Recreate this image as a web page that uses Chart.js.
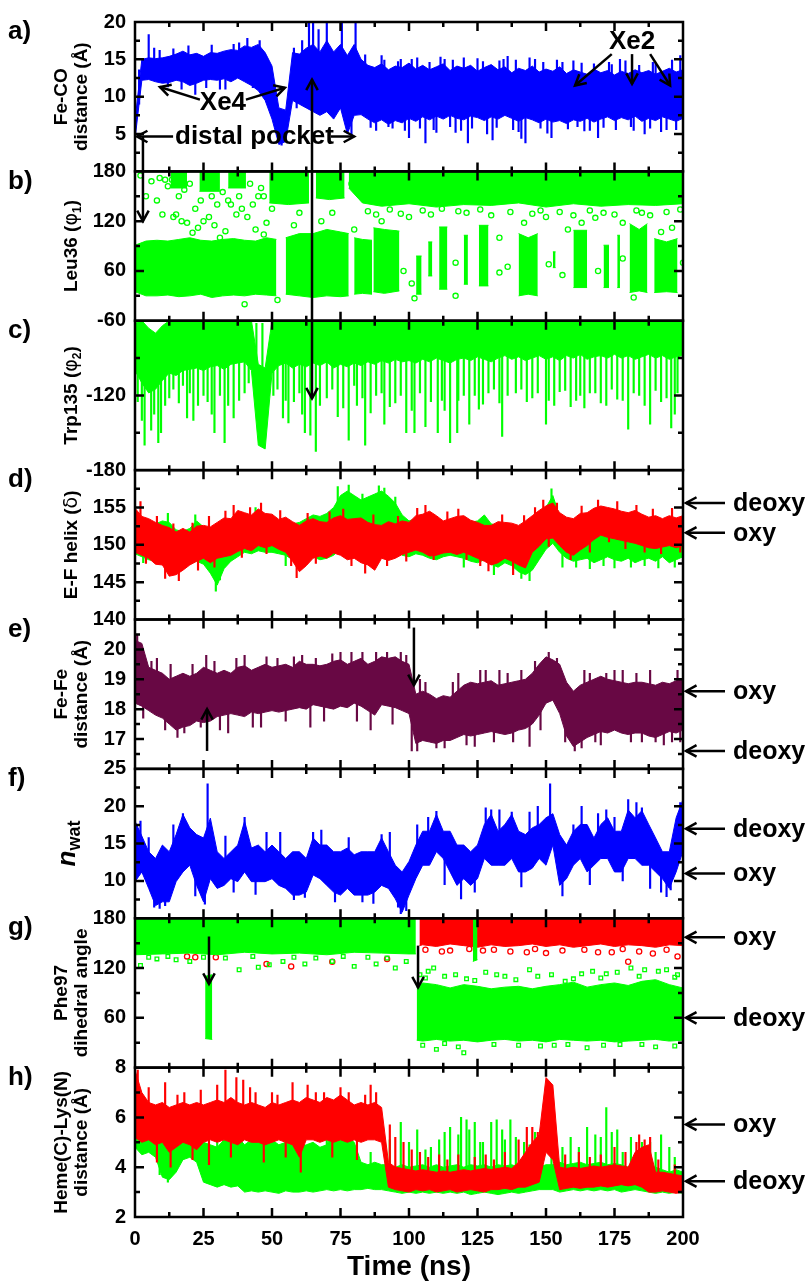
<!DOCTYPE html>
<html>
<head>
<meta charset="utf-8">
<script src="https://cdn.jsdelivr.net/npm/chart.js@4.4.0/dist/chart.umd.min.js"></script>
<style>
  html, body { margin: 0; padding: 0; background: #fff; }
</style>
</head>
<body>
<canvas id="chart" width="812" height="1281"></canvas>
<script>
// ---- time axis (ns), sampled every 2.5 ns ----
const TIME = [
  0,2.5,5,7.5,10,12.5,15,17.5,20,22.5,
  25,27.5,30,32.5,35,37.5,40,42.5,45,47.5,
  50,52.5,55,57.5,60,62.5,65,67.5,70,72.5,
  75,77.5,80,82.5,85,87.5,90,92.5,95,97.5,
  100,102.5,105,107.5,110,112.5,115,117.5,120,122.5,
  125,127.5,130,132.5,135,137.5,140,142.5,145,147.5,
  150,152.5,155,157.5,160,162.5,165,167.5,170,172.5,
  175,177.5,180,182.5,185,187.5,190,192.5,195,197.5,
  200
];

// a) Fe-CO distance: upper / lower envelope of the trace
const aHi = [
  6.8,15.0,15.2,15.1,15.2,15.4,15.7,16.1,15.6,15.8,
  15.4,15.9,15.8,16.1,16.3,16.2,16.8,16.6,17.0,15.9,
  14.1,8.5,8.2,15.9,15.7,16.5,17.0,16.0,17.5,16.0,
  17.0,15.5,17.0,15.0,14.2,13.9,14.4,13.6,14.1,13.9,
  14.5,13.7,14.2,13.6,14.0,14.4,13.5,14.1,13.8,14.2,
  13.4,13.9,14.3,13.6,14.0,13.2,13.8,13.5,14.1,13.3,
  13.7,13.4,14.0,13.1,13.6,13.3,13.0,13.7,13.2,13.5,
  12.9,13.4,13.1,13.6,13.2,13.5,13.0,13.4,13.8,13.3,
  13.6
];
const aLo = [
  4.3,12.2,12.3,12.0,11.8,11.9,12.2,12.0,11.5,11.8,
  12.2,12.3,12.2,12.4,12.0,12.5,12.0,11.5,10.8,9.5,
  7.0,3.6,4.0,9.5,9.0,8.5,8.0,7.5,8.0,7.0,
  8.5,5.0,7.5,7.6,7.0,6.5,6.9,6.3,6.8,6.5,
  7.1,6.7,7.3,6.9,7.4,7.0,7.5,7.1,6.9,7.4,
  7.2,6.8,7.3,7.0,7.5,7.1,6.7,7.2,6.9,6.5,
  7.0,6.6,6.8,6.4,6.9,6.7,7.1,6.6,7.0,7.3,
  6.8,7.2,6.9,7.4,6.7,7.1,6.8,7.3,7.0,6.7,
  7.1
];
const aSpikeT = [1.5,5,9,22,31,38,45.5,53.5,58,63.5,65,67,70,75.5,79,80.5,84,88,90,94,97,100,103,106,109,113,117,121.5,125,130.5,133,136,140,142.5,146,152,156,160,164,169,173,177,182,186,190,194,199,
  7,12,14,17,19.5,26,28,33,36,41,43,59,61,
  82,86,91,92.5,96,98.5,101,104,107.5,110,111.5,115,116,119,120,123,127,128.5,132,134.5,138,139,141,144,148,149,150.5,154,158,161.5,163,166,167.5,171,174,175.5,179,181,184,188,189,192,196,197.5];
const aSpikeV = [9,18.3,16.2,10.3,11,17.2,17.5,3.5,16.5,20,20,19,20,20,4.5,20,15.6,5.5,15.5,5.8,15.0,4.5,15.2,3.8,5.6,15,5.2,3.8,15.1,4.2,14.8,15.4,5.3,3.8,15.0,4.5,14.6,14.8,5.4,4.5,14.6,15.0,5.5,5,14.5,5.6,15.5,
  16.5,11.3,16.4,11.0,16.8,11.2,16.9,11.0,17.0,17.8,11.2,8.5,17.5,
  14.8,5.9,14.9,6.0,14.7,5.5,15.0,5.8,14.6,5.2,15.3,6.0,14.9,5.5,15.2,5.8,14.7,5.0,5.9,15.0,5.6,14.9,4.4,15.2,5.8,14.6,5.1,14.9,5.7,6.0,14.5,5.5,14.4,5.9,14.3,5.6,14.8,6.0,14.2,5.8,14.6,5.3,14.9,5.6];

// b) Leu36 phi1: dense blocks (segments split by null) and stray points
const bLowT  = [0,4,8,12,16,20,24,28,32,36,40,44,48,51.6,51.7, 55,60,65,70,75,78,78.1, 80,83,86.5,86.6, 87,91,96.5,96.6, 102.6,104.6,104.7, 107,108.5,108.6, 111,114,114.1, 120,121.5,121.6, 125.5,129,129.1, 140,143.5,147,147.1, 152.5,153.5,153.6, 160,165,165.1, 171,173,173.1, 176,177,177.1, 180.5,184,187,187.1, 189.5,194,198];
const bLowHi = [91,96,97,96,98,100,97,96,98,99,97,96,100,98,null, 100,105,105,110,107,105,null, 100,98,97,null, 112,110,108,null, 78,78,null, 95,95,null, 113,113,null, 103,103,null, 115,115,null, 105,100,105,null, 83,83,null, 109,109,null, 91,91,null, 103,103,null, 117,110,117,null, 99,95,99];
const bLowLo = [35,30,30,31,29,30,32,28,30,31,30,32,31,30,null, 32,30,28,30,29,30,null, 32,33,32,null, 35,33,36,null, 32,32,null, 54,54,null, 38,38,null, 44,44,null, 42,42,null, 30,32,30,null, 64,64,null, 40,40,null, 40,40,null, 40,40,null, 34,36,34,null, 34,35,34];
const bUpT  = [13,19,19.1, 23.5,31,31.1, 34,40.5,40.6, 49,56,63.5,63.6, 66,71,76.5,76.6, 78,83,90,100,110,120,130,140,150,160,170,180,190,200];
const bUpHi = [180,180,null, 180,180,null, 180,180,null, 180,180,180,null, 180,180,180,null, 180,180,180,180,180,180,180,180,180,180,180,180,180,180];
const bUpLo = [160,160,null, 156,156,null, 160,160,null, 142,140,142,null, 148,146,148,null, 160,142,138,141,137,140,139,142,137,141,138,140,139,141];
const bOutT = [2,4,6,8,10,11,14,15,17,19,21,22,23,25,27,29,31,33,35,37,41,42,44,45,47,48,50,53,58,60,68,72,79,80,90,95,100,118,130,133,142,150,158,163,168,178,185,192,196,40,52,102,117,182,9,
  12,13.5,16,18,20,24,26,28,30,32,34,36,38,39,43,46,47,
  85,88,93,97,105,108,112,121,126,137,145,148,155,160,166,171,175,183,188,194,199,
  98,101,117,133,136,151,156,169,178,200];
const bOutV = [175,150,168,145,128,170,125,128,120,118,106,135,112,120,125,115,100,108,140,128,125,165,110,150,104,118,135,160,115,130,120,130,165,110,120,105,125,132,127,100,118,125,110,118,124,118,130,107,112,20,25,27,30,28,172,
  162,170,150,158,165,145,162,150,140,155,145,170,150,135,140,160,150,
  132,128,134,129,133,128,135,130,134,131,129,133,131,127,133,130,128,133,127,131,134,
  60,45,70,58,65,68,55,60,75,70];

// c) Trp135 phi2
const cHi = [
  -62,-60,-66,-70,-64,-60,-60,-60,-60,-60,
  -60,-60,-60,-60,-60,-60,-60,-60,-95,-98,
  -60,-60,-60,-60,-60,-60,-60,-60,-60,-60,
  -60,-60,-60,-60,-60,-60,-60,-60,-60,-60,
  -60,-60,-60,-60,-60,-60,-60,-60,-60,-60,
  -60,-60,-60,-60,-60,-60,-60,-60,-60,-60,
  -60,-60,-60,-60,-60,-60,-60,-60,-60,-60,
  -60,-60,-60,-60,-60,-60,-60,-60,-60,-60,
  -60
];
const cLo = [
  -100,-110,-118,-115,-108,-102,-104,-100,-99,-98,
  -100,-97,-96,-99,-95,-94,-93,-100,-160,-163,
  -102,-96,-94,-98,-95,-97,-94,-96,-93,-98,
  -95,-97,-94,-96,-93,-95,-92,-94,-91,-93,
  -92,-94,-91,-93,-90,-92,-94,-91,-90,-92,
  -89,-91,-93,-90,-88,-91,-89,-92,-90,-88,
  -91,-89,-92,-88,-90,-87,-91,-89,-88,-90,
  -87,-90,-88,-91,-89,-87,-90,-88,-91,-89,
  -88
];
const cSpikeT = [3.5,5.9,8.5,11,14,19,21.3,25,29,32.7,36,40,44.3,46.5,54,56,58,62,64,66,70,74,78,81,84,88,91,95,99,102,104,106,110.5,112,115,117.6,120,122,127,131,134,139,145,150,153,157,161,164,168,172,176,180,184,188,192,195.7,198,
  1,2.5,7,9.5,12.5,16,17.5,20,23,26.5,28,31,34,38,41.5,50.5,52,55,60,61,67.5,72,76,80,83,86,90,93,97,101,108,113,118,124,125.5,129,133,136,141,143,147,151,155,159,162.5,166,170,174,178,182,186,190,194,197];
const cSpikeV = [-160,-148,-158,-128,-115,-138,-140,-120,-150,-158,-138,-118,-62,-62,-138,-142,-125,-150,-152,-165,-122,-137,-156,-128,-160,-120,-143,-126,-150,-150,-118,-145,-150,-124,-158,-150,-120,-143,-127,-115,-153,-118,-122,-143,-128,-116,-124,-130,-118,-128,-123,-147,-120,-143,-125,-146,-118,
  -125,-140,-135,-150,-122,-126,-112,-118,-128,-125,-135,-120,-128,-124,-110,-120,-115,-124,-118,-135,-128,-115,-130,-112,-122,-134,-118,-129,-120,-132,-125,-132,-124,-120,-131,-118,-126,-120,-115,-125,-118,-124,-117,-129,-120,-118,-126,-115,-124,-118,-128,-116,-122,-135];

// d) E-F helix delta (green and red runs)
const dRedHi = [
  154.9,153.8,153.5,153.0,152.6,152.3,151.7,152.2,151.7,152.5,
  152.6,152.4,153.0,153.6,153.5,154.6,154.3,154.0,154.8,154.2,
  154.1,153.4,153.7,153.1,152.6,153.2,153.5,153.1,153.0,153.6,
  153.9,153.4,153.5,153.6,153.0,152.7,152.6,153.1,152.8,153.2,
  153.0,153.9,154.1,154.5,153.9,153.2,153.5,153.8,153.9,153.3,
  153.0,152.6,152.6,153.1,153.0,152.9,152.6,153.2,153.9,154.6,
  155.2,155.6,154.3,153.7,153.5,154.2,154.3,154.9,155.2,155.0,
  154.8,154.5,154.3,154.6,154.1,153.7,153.9,153.5,153.9,153.6,
  153.9
];
const dRedLo = [
  149.0,148.6,148.2,147.4,147.3,145.8,146.0,146.6,147.3,147.8,
  148.2,147.6,148.2,148.4,148.6,149.1,149.5,149.2,149.9,149.6,
  149.9,149.4,149.0,147.8,146.4,147.2,148.2,148.5,148.2,148.9,
  148.6,148.0,148.2,147.6,147.3,146.6,148.2,147.9,148.2,148.7,
  149.0,149.3,149.0,148.5,148.6,148.9,149.0,148.7,149.0,148.6,
  148.2,147.8,147.3,147.6,148.2,147.8,147.3,146.9,149.0,149.8,
  150.8,150.9,149.9,149.0,148.6,149.3,149.9,150.7,151.3,151.0,
  150.8,150.6,150.4,150.2,149.9,149.6,149.5,149.7,149.9,149.6,
  149.9
];
const dGreenHi = [
  154.5,153.5,153.2,152.8,153.2,153.0,152.0,151.8,152.2,153.2,
  152.4,152.0,152.5,153.0,153.2,154.0,154.0,153.8,154.2,153.8,
  153.8,153.0,153.2,152.8,153.0,153.5,154.0,153.8,154.2,155.0,
  156.6,157.2,156.6,156.0,156.4,156.8,157.2,156.5,155.6,154.0,
  153.2,153.5,154.0,154.2,153.6,153.0,153.4,153.5,153.8,153.0,
  153.2,154.0,152.8,152.6,152.8,152.4,152.2,152.6,153.6,154.0,
  155.0,156.6,153.8,153.0,152.6,152.8,152.4,152.6,152.8,152.4,
  152.6,152.2,152.6,152.4,152.8,152.2,152.5,152.2,152.6,152.4,
  152.6
];
const dGreenLo = [
  148.8,148.4,148.0,147.8,147.6,147.0,146.8,147.0,147.5,147.8,
  147.4,146.2,144.6,146.8,147.8,148.4,149.0,148.8,149.2,149.0,
  149.0,148.8,148.6,148.0,147.6,148.0,148.4,148.0,148.2,148.6,
  149.5,150.5,150.8,150.6,150.2,150.8,151.0,150.6,149.6,148.6,
  148.4,148.8,148.6,148.2,148.0,148.4,148.6,148.4,148.2,147.8,
  147.6,148.0,147.4,147.0,147.6,147.2,146.4,146.0,146.6,148.0,
  149.4,150.2,149.0,148.2,147.8,148.0,148.2,147.6,148.0,148.4,
  148.0,147.8,148.2,147.6,148.0,148.2,147.8,148.4,147.6,148.0,
  148.4
];
const dRedSpikeT = [2,4,8,11,14,16,21,23,27,29,33,36,39,42,46,48,53,57,59,63,66,71,76,79,84,87,92,96,99,103,106,109,114,118,121,126,129,134,138,142,146,149,151,154,159,163,166,169,173,176,179,183,186,189,192,196,199];
const dRedSpikeV = [155.8,147.5,153.8,145.5,152.8,145.2,152.9,146.6,153.8,147.0,154.5,155.3,148.3,155.0,155.6,148.8,154.6,147.2,145.6,154.2,147.5,154.4,154.8,147.2,146.2,154.0,147.2,153.8,147.8,154.9,155.3,148.0,154.4,154.8,148.0,147.2,146.5,154.0,146.0,153.9,155.0,156.0,149.8,155.6,148.0,155.2,149.0,156.0,150.4,155.8,149.5,155.3,149.0,154.8,148.8,154.9,149.0];
const dGreenSpikeT = [3,12,22,29.5,31,44,55,74,78,83,89,91,95,120,131,141,144,152,156,161,166,171,175,181,186,191,197,199];
const dGreenSpikeV = [147.6,154.2,154.0,143.8,145.3,155.0,147.2,157.8,158.0,156.8,157.9,157.6,156.4,147.0,146.0,145.5,145.2,157.5,147.0,147.0,146.8,147.2,146.9,147.0,147.2,146.9,147.0,152.0];

// e) Fe-Fe distance
const eHi = [
  20.3,20.2,19.4,19.3,19.2,19.0,19.1,19.2,19.1,19.2,
  19.4,19.3,19.2,19.3,19.2,19.4,19.45,19.3,19.4,19.5,
  19.4,19.45,19.5,19.4,19.6,19.5,19.5,19.45,19.5,19.6,
  19.65,19.5,19.6,19.7,19.5,19.6,19.75,19.7,19.75,19.6,
  19.5,18.5,18.6,18.5,18.35,18.45,18.4,18.6,18.8,18.9,
  18.85,18.9,18.95,18.8,18.85,18.9,18.95,19.0,19.2,19.5,
  19.75,19.65,19.5,18.9,18.6,18.8,18.9,19.0,19.1,19.0,
  18.95,18.9,18.85,18.9,18.9,18.85,18.8,18.9,18.85,18.95,
  19.0
];
const eLo = [
  18.2,18.1,17.95,17.8,17.7,17.5,17.3,17.4,17.45,17.6,
  17.55,17.6,17.75,17.8,17.85,17.8,17.75,17.9,17.85,17.9,
  17.95,17.9,17.95,18.0,18.05,18.0,18.15,18.1,18.05,18.0,
  18.1,18.05,18.2,18.1,17.95,17.8,18.15,18.1,18.05,17.95,
  17.85,16.85,16.95,16.9,16.85,16.95,16.95,17.05,17.15,17.1,
  17.15,17.2,17.25,17.2,17.15,17.2,17.3,17.35,17.5,17.8,
  18.2,18.3,17.85,17.1,16.75,16.9,17.05,17.15,17.25,17.2,
  17.3,17.2,17.15,17.2,17.2,17.1,17.05,17.15,17.25,17.2,
  17.3
];
const eSpikeT = [0.8,8,15.5,26,34,40,46,52,58,64,66,72,79,83,86,92,97,101,104,108,113,118,124,128,136,141,144,151,160.5,164,168,172,178,185,190,196,198,
  3,6,11,13,18,21,24,29,31,37,43,48,55,61,69,75,81,88,94,99,103,106,110,116,121,126,131,133,138,146,148,154,157,163,166,170,175,181,183,188,193,199];
const eSpikeV = [20.5,19.7,17.05,19.8,17.2,19.8,17.4,19.7,19.75,17.4,19.7,19.85,19.9,19.9,17.3,19.9,19.9,16.6,19.0,17.0,16.7,19.2,16.75,19.3,19.2,19.3,16.75,19.9,16.6,19.3,16.9,19.2,19.3,16.9,16.9,16.9,19.3,
  17.7,19.6,17.3,19.5,17.2,19.5,17.4,19.6,17.3,19.7,17.4,19.75,17.6,19.8,17.6,19.9,17.6,19.9,17.5,19.8,16.6,18.9,16.7,18.9,16.8,19.3,16.9,19.3,16.9,19.6,17.3,19.7,16.9,16.7,19.2,16.8,19.3,16.9,19.2,19.3,16.8,16.9];

// f) n_wat
const fHi = [
  18.0,16.0,13.9,13.0,14.8,13.9,16.2,18.9,17.1,16.2,
  15.75,18.4,13.9,13.0,13.9,14.8,18.0,14.4,14.8,13.9,
  14.8,13.9,13.0,13.9,13.9,13.0,15.75,14.8,14.8,13.9,
  13.9,14.4,13.5,13.9,13.9,13.9,15.75,13.9,12.1,11.2,
  12.6,14.8,16.65,16.65,18.9,16.65,16.65,14.8,14.8,13.9,
  14.8,17.55,18.9,16.65,17.55,18.9,16.65,16.2,17.1,17.55,
  18.45,19.0,16.2,14.8,16.65,17.55,17.55,15.75,17.55,18.45,
  16.65,16.65,19.5,18.45,19.4,17.55,15.75,13.9,13.9,18.45,
  20.9
];
const fLo = [
  9.9,11.2,9.0,6.7,7.2,7.2,9.9,11.2,12.1,9.4,
  7.2,10.3,9.0,9.4,10.3,9.9,11.2,9.9,9.9,9.9,
  10.3,9.4,9.0,8.1,8.1,8.5,10.8,10.3,9.4,8.5,
  8.1,9.0,8.1,8.1,8.1,8.5,9.4,9.0,7.6,5.8,
  8.1,10.3,12.1,12.1,13.9,13.0,11.2,9.4,10.3,9.4,
  10.3,13.0,12.1,12.1,12.1,13.0,11.2,11.2,11.7,13.0,
  12.1,14.8,9.4,10.3,12.1,13.0,11.2,12.1,13.0,13.0,
  11.2,11.2,13.0,13.0,12.1,12.1,11.2,10.3,9.0,11.2,
  14.0
];
const fSpikeT = [2,7,11,17.5,25.5,26.5,40,65,90,97,110,130,137.5,151.5,172,180,185,195.5,
  5,9,14,22,33,36,44,48,53,58,62,68,73,78,83,87,93,96,99,103,107,113,119,124,128,133,141,144,147,156,160,163,166,169,175,178,183,188,192,194,199];
const fSpikeV = [18,6.5,6.7,19,6.9,23,18.5,16.5,16.2,5.6,19.3,19.5,19.2,23,19.5,20.9,19.8,8.8,
  15.8,6.3,17.5,8.0,16,8.5,8.2,16.5,16.5,7.5,7.8,16.8,7.2,15.8,7.2,7.0,16.5,6.5,6.0,17.5,18.5,9.5,7.6,8.5,19.8,19.5,9.2,19.2,20.0,8.0,17.5,20,9.5,19.0,18.5,10,20.5,9.0,8.5,7.9,20.5];

// g) Phe97 dihedral angle
const gGreenUpT  = [0,10,20,30,40,50,60,70,80,90,100,102.5];
const gGreenUpHi = [180,180,180,180,180,180,180,180,180,180,180,180];
const gGreenUpLo = [136,137,138,136,139,137,138,136,139,138,137,137];
const gGreenDipT  = [25.6,28.2];
const gGreenDipHi = [110,112];
const gGreenDipLo = [35,34];
const gGreenBarT  = [123.3,125.0];
const gGreenBarHi = [180,180];
const gGreenBarLo = [128,130];
const gGreenLowT  = [102.8,105,110,115,120,125,130,135,140,145,150,155,160,165,170,175,180,185,190,195,200];
const gGreenLowHi = [97,102,100,96,100,98,95,97,98,95,98,100,103,97,100,102,99,104,106,100,96];
const gGreenLowLo = [33,32,34,32,33,31,33,34,32,33,31,34,33,32,33,31,32,33,34,32,33];
const gRedT  = [103.8,105,110,115,120,125,130,135,140,145,150,155,160,165,170,175,180,185,190,195,200];
const gRedHi = [180,180,180,180,180,180,180,180,180,180,180,180,180,180,180,180,180,180,180,180,180];
const gRedLo = [147,148,146,149,147,145,148,146,147,149,146,148,145,147,149,146,148,147,145,148,147];
const gGreenOutT = [2,8,15,20,38,45,49,54,62,72,80,88,95,99,104,107,109,117,121,128,135,144,152,160,167,172,181,186,194,198,110,118,131,153,165,177,190,120,
  106,113,124,132,139,147,157,163,170,176,184,191,197,105,113,140,148,158,171,185,197,5,12,25,33,43,58,66,76,85,92];
const gGreenOutV = [123,131,130,128,118,121,124,128,125,128,122,125,120,128,112,116,120,112,107,115,110,118,112,107,116,113,120,118,118,112,22,25,28,27,24,28,25,18,
  108,110,105,112,106,110,104,113,108,115,110,116,109,27,29,27,26,28,27,28,26,133,134,133,132,134,133,132,134,133,132];
const gRedOutT = [19,22,29.5,48,57,72,92,112,127,143,150,174,180,189,198,
  106,115,122,131,137,146,156,164,169,178,184,194];
const gRedOutV = [134,133,133,125,122,127.5,131,140,141,139,138,139,127.5,137.5,134,
  142,141,143,142,140,143,141,142,139,143,140,142];

// h) Heme(C)-Lys(N) distance
const hRedHi = [
  7.9,7.0,6.6,6.5,6.6,6.4,6.5,6.6,6.5,6.6,
  6.5,6.6,6.7,6.6,6.8,6.6,6.5,6.6,6.5,6.4,
  6.6,6.5,6.6,6.7,6.6,6.8,6.7,6.6,6.8,6.7,
  6.9,6.7,6.5,6.6,6.5,6.6,6.4,4.2,4.0,3.95,
  3.9,3.85,3.9,3.85,3.8,3.85,3.8,3.85,3.9,3.85,
  3.9,3.95,3.9,3.95,4.0,3.95,4.2,4.6,5.0,5.3,
  7.6,7.3,4.0,3.95,4.0,3.95,4.0,4.05,4.0,4.05,
  4.1,4.05,4.0,4.6,4.8,4.9,3.8,3.8,3.75,3.7,
  3.65
];
const hRedLo = [
  5.2,5.0,5.1,4.9,5.0,4.6,4.8,5.0,4.9,4.7,
  5.0,5.1,5.0,5.1,5.0,4.9,5.1,5.0,5.0,4.9,
  5.0,5.1,5.0,4.9,4.4,5.1,5.1,5.0,5.1,5.0,
  5.1,5.0,5.1,5.0,5.1,5.1,5.0,3.2,3.1,3.05,
  3.0,3.1,3.05,3.1,3.0,3.05,3.1,3.0,3.05,3.1,
  3.05,3.0,3.1,3.1,3.15,3.1,3.2,3.2,3.3,3.4,
  4.6,4.3,3.1,3.15,3.2,3.15,3.2,3.2,3.25,3.2,
  3.25,3.3,3.25,3.3,3.2,3.0,3.0,3.05,3.0,2.95,
  3.0
];
const hGreenHi = [
  6.2,6.0,5.8,5.6,5.2,5.0,5.4,5.6,5.3,5.5,
  5.0,4.9,4.8,5.1,5.0,5.2,4.9,5.1,5.2,5.0,
  5.1,4.9,5.0,5.1,4.8,4.9,5.0,4.8,4.9,5.4,
  5.6,5.2,5.0,4.2,4.1,4.2,4.1,4.1,4.0,4.1,
  4.0,4.05,4.1,4.0,4.1,4.0,4.05,4.1,4.0,4.1,
  4.05,4.1,4.0,4.1,4.05,4.1,4.0,4.05,4.1,4.0,
  4.1,4.1,4.2,4.1,4.15,4.2,4.1,4.15,4.2,4.1,
  4.15,4.1,4.0,4.05,4.1,4.0,4.0,3.9,3.8,3.9,
  3.8
];
const hGreenLo = [
  4.8,4.5,4.6,4.4,3.6,3.5,3.8,4.3,4.4,4.2,
  3.4,3.3,3.2,3.3,3.2,3.25,3.0,3.05,3.0,3.05,
  3.0,2.95,3.05,3.0,3.0,3.05,3.0,3.05,3.1,3.05,
  3.1,3.05,3.1,3.1,3.15,3.1,3.1,3.05,3.0,2.95,
  3.0,2.95,3.0,2.95,3.0,2.95,3.0,2.95,3.0,2.9,
  2.95,3.0,2.95,2.9,2.95,3.0,2.95,3.0,3.05,3.1,
  3.1,3.1,3.0,3.05,3.1,3.05,3.1,3.05,3.1,3.05,
  3.1,3.0,3.05,3.1,3.05,3.0,2.95,3.0,2.95,3.0,
  2.95
];
const hRedSpikeT = [1,11,15.5,33,37,39.5,44,47,52,57.5,60.5,66,75,84,93,95,98,101,107,118,124,135,145,162,175,183,186,
  5,8,13,18,21,24,27,30,35,42,50,55,63,69,72,78,81,86,88,104,111,114,128,131,140,143,147,157,166,170,179,184,188,191,197];
const hRedSpikeV = [7.9,7.4,6.9,7.9,7.6,7.5,7.0,4.2,6.9,7.4,3.8,7.0,7.2,6.9,5.7,5.2,5.0,4.7,4.4,4.5,4.4,4.6,5.6,4.6,4.8,5.0,5.1,
  7.2,4.2,4.0,7.0,4.3,7.1,4.1,7.3,4.4,7.2,7.0,4.4,7.3,7.0,4.4,7.0,4.3,7.3,7.0,4.6,4.5,4.3,4.5,4.3,5.1,5.6,5.4,4.5,4.4,4.5,4.6,5.3,5.2,4.3,4.1];
const hGreenSpikeT = [4,9,12,19,30,45,70,79,86,93,97,103,108,111,115,118,121,124,127,130,134,137,142,146,159,165,168,172,176,181,188,192,195,
  100,106,113,119,122,126,132,135,139,144,148,152,156,162,170,174,178,185,190,197];
const hGreenSpikeV = [6.4,3.7,3.4,6.5,5.5,5.6,6.0,6.1,4.6,5.1,5.8,5.5,4.8,5.1,5.6,5.3,5.9,5.8,5.0,5.8,5.5,5.9,5.0,5.4,5.2,5.6,5.3,6.4,5.5,5.2,5.0,5.3,4.8,
  5.0,4.7,5.4,6.0,5.5,5.0,5.9,5.1,5.2,4.9,5.4,4.5,4.8,4.8,5.2,5.4,4.6,5.0,4.6,4.4];

// ---- panels: axis ranges and labelled ticks ----
const PANEL_IDS = ['ya','yb','yc','yd','ye','yf','yg','yh'];
const PANEL_LETTERS = ['a)','b)','c)','d)','e)','f)','g)','h)'];
const yMin = [0, 0, -180, 140, 16, 5, 0, 2];
const yMax = [20, 180, -60, 160, 21, 25, 180, 8];
const yStep = [2.5, 30, 30, 2.5, 0.5, 2.5, 30, 1];
const yLabels = [[5,10,15,20],[60,120,180],[-180,-120,-60],[140,145,150,155],[17,18,19,20],[10,15,20,25],[60,120,180],[2,4,6,8]];

// right-hand reference markers
const noteAxis  = ['yd','yd','ye','ye','yf','yf','yg','yg','yh','yh'];
const noteValue = [155.6, 151.6, 18.6, 16.6, 17, 11, 157, 60, 5.72, 3.44];
const noteText  = ['deoxy','oxy','oxy','deoxy','deoxy','oxy','oxy','deoxy','oxy','deoxy'];

const GREEN = '#00ff00', RED = '#ff0000', BLUE = '#0000ff', PURPLE = '#680844';
const FONT = "'Liberation Sans', Arial, Helvetica, sans-serif";

const datasets = [];

function band(axis, T, hi, lo, color, order) {
  datasets.push({ type: 'line', yAxisID: axis, order, data: T.map((t, i) => ({ x: t, y: hi[i] })),
    borderColor: color, backgroundColor: color, borderWidth: 1, pointRadius: 0, tension: 0, fill: '+1' });
  datasets.push({ type: 'line', yAxisID: axis, order, data: T.map((t, i) => ({ x: t, y: lo[i] })),
    borderColor: color, backgroundColor: color, borderWidth: 1, pointRadius: 0, tension: 0, fill: false });
}

// thin excursions, starting from the middle of the band at the nearest sample
function spikes(axis, T, V, hi, lo, color, order) {
  datasets.push({ type: 'bar', yAxisID: axis, order, grouped: false, barThickness: 1.5,
    backgroundColor: color,
    data: T.map((t, k) => { const i = Math.round(t / 2.5); return { x: t, y: [(hi[i] + lo[i]) / 2, V[k]] }; }) });
}

function dots(axis, T, V, color, style, order) {
  datasets.push({ type: 'line', showLine: false, yAxisID: axis, order,
    data: T.map((t, k) => ({ x: t, y: V[k] })),
    pointStyle: style, pointRadius: 2.6, pointBorderWidth: 1.3,
    pointBorderColor: color, pointBackgroundColor: 'rgba(0,0,0,0)' });
}

band('ya', TIME, aHi, aLo, BLUE, 2);
spikes('ya', aSpikeT, aSpikeV, aHi, aLo, BLUE, 2);

band('yb', bLowT, bLowHi, bLowLo, GREEN, 2);
band('yb', bUpT, bUpHi, bUpLo, GREEN, 2);
dots('yb', bOutT, bOutV, GREEN, 'circle', 1);

band('yc', TIME, cHi, cLo, GREEN, 2);
spikes('yc', cSpikeT, cSpikeV, cHi, cLo, GREEN, 2);

band('yd', TIME, dRedHi, dRedLo, RED, 1);
spikes('yd', dRedSpikeT, dRedSpikeV, dRedHi, dRedLo, RED, 1);
band('yd', TIME, dGreenHi, dGreenLo, GREEN, 3);
spikes('yd', dGreenSpikeT, dGreenSpikeV, dGreenHi, dGreenLo, GREEN, 3);

band('ye', TIME, eHi, eLo, PURPLE, 2);
spikes('ye', eSpikeT, eSpikeV, eHi, eLo, PURPLE, 2);

band('yf', TIME, fHi, fLo, BLUE, 2);
spikes('yf', fSpikeT, fSpikeV, fHi, fLo, BLUE, 2);

band('yg', gRedT, gRedHi, gRedLo, RED, 4);
dots('yg', gRedOutT, gRedOutV, RED, 'circle', 4);
band('yg', gGreenUpT, gGreenUpHi, gGreenUpLo, GREEN, 2);
band('yg', gGreenDipT, gGreenDipHi, gGreenDipLo, GREEN, 2);
band('yg', gGreenBarT, gGreenBarHi, gGreenBarLo, GREEN, 2);
band('yg', gGreenLowT, gGreenLowHi, gGreenLowLo, GREEN, 2);
dots('yg', gGreenOutT, gGreenOutV, GREEN, 'rect', 1);

band('yh', TIME, hGreenHi, hGreenLo, GREEN, 4);
spikes('yh', hGreenSpikeT, hGreenSpikeV, hGreenHi, hGreenLo, GREEN, 4);
band('yh', TIME, hRedHi, hRedLo, RED, 2);
spikes('yh', hRedSpikeT, hRedSpikeV, hRedHi, hRedLo, RED, 2);

// ---- annotations (data coordinates) ----
const ARROWS = [
  { from: ['ya', 13.9, 4.67], to: ['ya', 0.7, 4.67] },
  { from: ['ya', 2.9, 4.67], to: ['yb', 2.9, 120] },
  { from: ['ya', 71.5, 4.67], to: ['ya', 80, 4.67] },
  { from: ['ya', 23.7, 9.6], to: ['ya', 9.1, 11.3] },
  { from: ['ya', 40.5, 9.6], to: ['ya', 54.7, 11.2] },
  { from: ['ya', 64.6, 12.3], to: ['yc', 64.6, -122.4], both: true },
  { from: ['ya', 174, 15.7], to: ['ya', 160.6, 11.5] },
  { from: ['ya', 181.4, 15.7], to: ['ya', 181.4, 11.7] },
  { from: ['ya', 188, 15.7], to: ['ya', 195.3, 11.5] },
  { from: ['ye', 101.8, 20.73], to: ['ye', 101.8, 18.8] },
  { from: ['ye', 26.3, 16.6], to: ['ye', 26.3, 18.0] },
  { from: ['yg', 27, 158], to: ['yg', 27, 101] },
  { from: ['yg', 103.3, 147], to: ['yg', 103.3, 96.6] }
];
const TEXTS = [
  { at: ['ya', 32.1, 9.2], text: 'Xe4', align: 'center' },
  { at: ['ya', 181.4, 17.3], text: 'Xe2', align: 'center' },
  { at: ['ya', 14.6, 4.67], text: 'distal pocket', align: 'left' }
];

function head(ctx, x1, y1, x2, y2) {
  const a = Math.atan2(y2 - y1, x2 - x1), L = 12, w = 0.5;
  ctx.beginPath();
  ctx.moveTo(x2 - L * Math.cos(a - w), y2 - L * Math.sin(a - w));
  ctx.lineTo(x2, y2);
  ctx.lineTo(x2 - L * Math.cos(a + w), y2 - L * Math.sin(a + w));
  ctx.stroke();
}
function arrow(ctx, x1, y1, x2, y2, both) {
  ctx.beginPath(); ctx.moveTo(x1, y1); ctx.lineTo(x2, y2); ctx.stroke();
  head(ctx, x1, y1, x2, y2);
  if (both) head(ctx, x2, y2, x1, y1);
}
// rotated title made of several runs: [text, font, shift]
function vtext(ctx, x, y, parts) {
  ctx.save();
  ctx.translate(x, y);
  ctx.rotate(-Math.PI / 2);
  ctx.textBaseline = 'middle';
  ctx.textAlign = 'left';
  let w = 0;
  parts.forEach(p => { ctx.font = p[1]; w += ctx.measureText(p[0]).width; });
  let cx = -w / 2;
  parts.forEach(p => { ctx.font = p[1]; ctx.fillText(p[0], cx, p[2] || 0); cx += ctx.measureText(p[0]).width; });
  ctx.restore();
}

const B19 = 'bold 19px ' + FONT;
const SUB = 'bold 12px ' + FONT;
const GREEK = '19px "DejaVu Sans", sans-serif';
const TITLES = [
  [[62, [['Fe-CO', B19]]], [82, [['distance (Å)', B19]]]],
  [[72, [['Leu36 (', B19], ['φ', GREEK], ['1', SUB, 6], [')', B19]]]],
  [[72, [['Trp135 (', B19], ['φ', GREEK], ['2', SUB, 6], [')', B19]]]],
  [[72, [['E-F helix (', B19], ['δ', GREEK], [')', B19]]]],
  [[62, [['Fe-Fe', B19]]], [82, [['distance (Å)', B19]]]],
  [[68, [['n', 'italic bold 26px ' + FONT], ['wat', 'bold 18px ' + FONT, 7]]]],
  [[62, [['Phe97', B19]]], [82, [['dihedral angle', B19]]]],
  [[62, [['Heme(C)-Lys(N)', B19]]], [82, [['distance (Å)', B19]]]]
];

const framePlugin = {
  id: 'frames',
  afterDatasetsDraw(chart) {
    const { ctx, chartArea: ca, scales } = chart;
    const xs = scales.x;
    ctx.save();
    ctx.strokeStyle = '#000';
    ctx.lineWidth = 2.5;
    PANEL_IDS.forEach(id => {
      const s = scales[id];
      ctx.strokeRect(ca.left, s.top, ca.right - ca.left, s.bottom - s.top);
      ctx.beginPath();
      for (let t = 12.5; t < 200; t += 12.5) {
        const px = xs.getPixelForValue(t);
        const len = t % 25 === 0 ? 9 : 5;
        ctx.moveTo(px, s.top); ctx.lineTo(px, s.top + len);
        ctx.moveTo(px, s.bottom); ctx.lineTo(px, s.bottom - len);
      }
      s.ticks.forEach(tk => {
        if (tk.value <= s.min || tk.value >= s.max) return;
        const py = s.getPixelForValue(tk.value);
        const len = tk.label !== '' ? 9 : 5;
        ctx.moveTo(ca.left, py); ctx.lineTo(ca.left + len, py);
        ctx.moveTo(ca.right, py); ctx.lineTo(ca.right - len, py);
      });
      ctx.stroke();
    });
    ctx.restore();
  },
  afterDraw(chart) {
    const { ctx, chartArea: ca, scales } = chart;
    const xs = scales.x;
    const P = c => [xs.getPixelForValue(c[1]), scales[c[0]].getPixelForValue(c[2])];
    ctx.save();
    ctx.strokeStyle = '#000';
    ctx.fillStyle = '#000';
    ctx.lineWidth = 2.5;
    ctx.lineCap = 'butt';
    ctx.lineJoin = 'miter';

    ARROWS.forEach(a => {
      const [x1, y1] = P(a.from), [x2, y2] = P(a.to);
      arrow(ctx, x1, y1, x2, y2, a.both);
    });
    ctx.font = 'bold 26px ' + FONT;
    ctx.textBaseline = 'middle';
    TEXTS.forEach(t => {
      const [x, y] = P(t.at);
      ctx.textAlign = t.align;
      ctx.fillText(t.text, x, y);
    });

    // right-hand markers
    ctx.font = 'bold 25px ' + FONT;
    ctx.textAlign = 'left';
    noteAxis.forEach((ax, k) => {
      const y = scales[ax].getPixelForValue(noteValue[k]);
      arrow(ctx, ca.right + 42, y, ca.right + 3, y);
      ctx.fillText(noteText[k], ca.right + 50, y + 1);
    });

    // panel letters and titles
    PANEL_IDS.forEach((id, k) => {
      const s = scales[id];
      ctx.font = 'bold 26px ' + FONT;
      ctx.textAlign = 'left';
      ctx.fillText(PANEL_LETTERS[k], 8, s.top + 10);
      const yc = (s.top + s.bottom) / 2;
      TITLES[k].forEach(line => vtext(ctx, line[0], yc, line[1]));
    });
    ctx.restore();
  }
};

const tickFont = { family: FONT, size: 20, weight: 'bold' };
const scales = {
  x: {
    type: 'linear', position: 'bottom', min: 0, max: 200, offset: false,
    ticks: { stepSize: 25, autoSkip: false, maxRotation: 0, font: tickFont, color: '#000', padding: 10 },
    grid: { display: false, drawTicks: false },
    border: { display: false },
    title: { display: true, text: 'Time (ns)', color: '#000', font: { family: FONT, size: 28, weight: 'bold', lineHeight: 1 }, padding: { top: 0, bottom: 0 } },
    afterFit(s) { s.height = 64; }
  }
};
PANEL_IDS.forEach((id, k) => {
  scales[id] = {
    type: 'linear', position: 'left', stack: 'panels', stackWeight: 1, weight: 8 - k,
    min: yMin[k], max: yMax[k], offset: false,
    ticks: {
      stepSize: yStep[k], autoSkip: false, font: tickFont, color: '#000', padding: 9,
      callback: v => (yLabels[k].includes(v) ? String(v) : '')
    },
    grid: { display: false, drawTicks: false },
    border: { display: false },
    afterFit(s) { s.width = 135; }
  };
});

new Chart(document.getElementById('chart'), {
  type: 'line',
  data: { datasets },
  options: {
    responsive: false,
    animation: false,
    devicePixelRatio: 1,
    events: [],
    layout: { padding: { top: 22, right: 129, bottom: 0, left: 0 } },
    plugins: { legend: { display: false }, tooltip: { enabled: false } },
    scales
  },
  plugins: [framePlugin]
});
</script>
</body>
</html>
